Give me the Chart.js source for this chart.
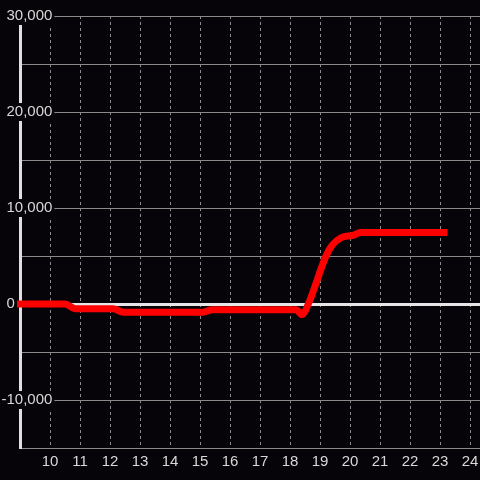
<!DOCTYPE html>
<html>
<head>
<meta charset="utf-8">
<script src="https://cdn.jsdelivr.net/npm/chart.js@4"></script>
<style>
  html, body { margin: 0; padding: 0; background: #060409; }
  #chart { display: block; }
</style>
</head>
<body>
<canvas id="chart" width="480" height="480"></canvas>
<script>
// data
const xValues = [8.9, 10.5, 10.85, 12.1, 12.45, 15.1, 15.4, 18.2, 18.4, 18.65, 18.85, 19.05, 19.2, 19.4, 19.7, 20.1, 20.35, 23.25];
const yValues = [0, 0, -500, -500, -850, -850, -600, -600, -1100, 300, 2000, 3800, 5000, 6100, 6900, 7150, 7450, 7450];
const xTicks = [10, 11, 12, 13, 14, 15, 16, 17, 18, 19, 20, 21, 22, 23, 24];
const yLabelled = [-10000, 0, 10000, 20000, 30000];

const BG = '#060409';

Chart.defaults.font.family = '"Liberation Sans", Arial, sans-serif';
Chart.defaults.font.size = 15;
Chart.defaults.color = '#d8d8d8';

const points = xValues.map((x, i) => ({ x: x, y: yValues[i] }));

new Chart(document.getElementById('chart').getContext('2d'), {
    type: 'line',
    data: {
        datasets: [{
            data: points,
            borderColor: '#ff0000',
            borderWidth: 7,
            borderCapStyle: 'butt',
            borderJoinStyle: 'round',
            pointRadius: 0,
            cubicInterpolationMode: 'monotone',
            clip: false
        }]
    },
    options: {
        responsive: false,
        animation: false,
        layout: { padding: { top: 16, right: 0, bottom: 4, left: 0 } },
        plugins: { legend: { display: false }, tooltip: { enabled: false } },
        scales: {
            x: {
                type: 'linear',
                min: 9,
                max: 24.3333,
                afterBuildTicks: (s) => { s.ticks = xTicks.map(v => ({ value: v })); },
                afterFit: (s) => { s.paddingLeft = 0; s.paddingRight = 0; },
                ticks: {
                    padding: 5,
                    maxRotation: 0,
                    autoSkip: false,
                    color: '#d8d8d8',
                    callback: (v) => String(v)
                },
                grid: {
                    color: '#8c8c8c',
                    lineWidth: 1,
                    drawTicks: false
                },
                border: { display: false, dash: [3, 3] }
            },
            y: {
                min: -15000,
                max: 30000,
                afterFit: (s) => { s.width = 20; },
                ticks: {
                    stepSize: 5000,
                    mirror: true,
                    crossAlign: 'far',
                    padding: -18.5,
                    color: '#d8d8d8',
                    showLabelBackdrop: true,
                    backdropPadding: { left: 2, right: 2, top: 0, bottom: 0 },
                    backdropColor: (ctx) => (ctx.tick && ctx.tick.value !== 0 && yLabelled.includes(ctx.tick.value)) ? BG : 'rgba(0,0,0,0)',
                    callback: (v) => {
                        if (!yLabelled.includes(v)) return '';
                        if (v === 0) return '0' + ' '.repeat(9);
                        return v.toLocaleString('en-US');
                    }
                },
                grid: {
                    drawTicks: false,
                    color: (ctx) => ctx.tick && ctx.tick.value === 0 ? '#e6e6e6' : '#8a8a88',
                    lineWidth: (ctx) => ctx.tick && ctx.tick.value === 0 ? 3 : 1
                },
                border: { display: true, color: '#e0e0e0', width: 3 }
            }
        }
    }
});
</script>
</body>
</html>
